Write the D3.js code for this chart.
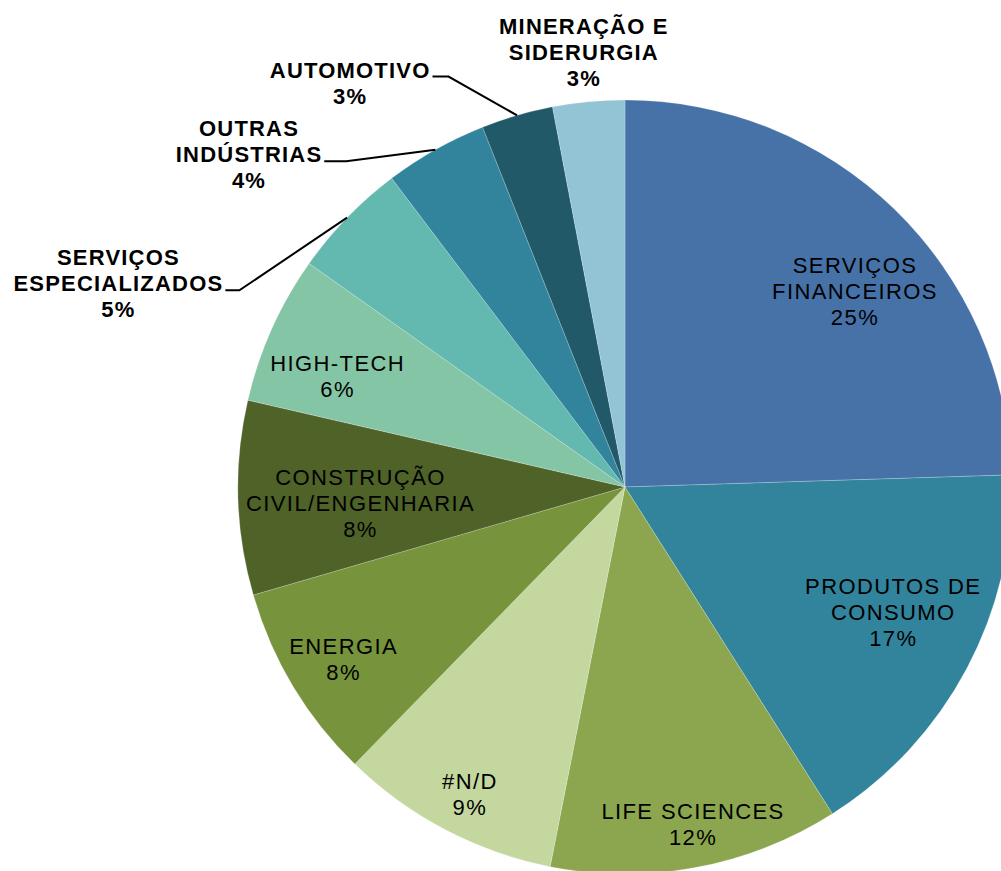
<!DOCTYPE html>
<html>
<head>
<meta charset="utf-8">
<script src="https://cdn.jsdelivr.net/npm/d3@7"></script>
<style>
  body { margin: 0; background: #fff; }
  svg text { font-family: "Liberation Sans", Arial, sans-serif; font-size: 22px; letter-spacing: 1.4px; fill: #000; }
  .outside { font-weight: bold; letter-spacing: 1.2px; }
</style>
</head>
<body>
<div class="container"></div>
<script>
// sectors, clockwise from 12 o'clock
var categories = [
  ["SERVIÇOS", "FINANCEIROS"],
  ["PRODUTOS DE", "CONSUMO"],
  ["LIFE SCIENCES"],
  ["#N/D"],
  ["ENERGIA"],
  ["CONSTRUÇÃO", "CIVIL/ENGENHARIA"],
  ["HIGH-TECH"],
  ["SERVIÇOS", "ESPECIALIZADOS"],
  ["OUTRAS", "INDÚSTRIAS"],
  ["AUTOMOTIVO"],
  ["MINERAÇÃO E", "SIDERURGIA"]
];
var values = [24.5, 16.5, 12.1, 9.2, 8.2, 8.1, 6.2, 4.9, 4.3, 3.0, 3.0];
var colors = ["#4672A8", "#31849B", "#8BA64F", "#C4D79F", "#77933C", "#4F6228",
              "#84C5A5", "#63B9B0", "#31849B", "#215968", "#93C4D6"];

const WIDTH = 1001;
const HEIGHT = 871;
const CX = 625, CY = 487, R = 387;
const LINE_H = 26;

// label placement: [angle deg from top, distance from centre, outside?, leader line index, elbow length]
var labelLayout = [
  [49.6, 302, false],
  [115.0, 296, false],
  [168.6, 344, false],
  [206.8, 344, false],
  [238.5, 330, false],
  [266.5, 265, false],
  [291.1, 308, false],
  [291.9, 546, true, 1, 14],
  [311.5, 502, true, 1, 22],
  [325.8, 489, true, 0, 16],
  [354.6, 437, true, -1, 0]
];

var svg = d3.select('.container').append('svg')
  .attr('width', WIDTH)
  .attr('height', HEIGHT);

var g = svg.append('g').attr('transform', 'translate(' + CX + ',' + CY + ')');

var pie = d3.pie().sort(null).value(function(d){ return d; });
var arcs = pie(values);
var arc = d3.arc().innerRadius(0).outerRadius(R);

g.selectAll('path.slice').data(arcs)
  .enter().append('path')
  .attr('class', 'slice')
  .attr('d', arc)
  .attr('fill', function(d, i){ return colors[i]; })
  .attr('stroke', 'rgba(255,255,255,0.35)')
  .attr('stroke-width', 0.6);

var polar = function(angDeg, r){
  var a = angDeg * Math.PI / 180;
  return [r * Math.sin(a), -r * Math.cos(a)];
};

arcs.forEach(function(d, i){
  var lay = labelLayout[i];
  var p = polar(lay[0], lay[1]);
  var lines = categories[i].concat([Math.round(values[i]) + '%']);
  var n = lines.length;
  var t = g.append('text')
    .attr('text-anchor', 'middle')
    .classed('outside', lay[2]);
  var spans = [];
  lines.forEach(function(s, k){
    var sp = t.append('tspan')
      .attr('x', p[0])
      .attr('y', p[1] + (k - (n - 1) / 2) * LINE_H + 8)
      .text(s);
    spans.push(sp);
  });

  if (lay[2] && lay[3] >= 0) {
    var k = lay[3];
    var w = spans[k].node().getComputedTextLength();
    var y0 = p[1] + (k - (n - 1) / 2) * LINE_H + 7;
    var x0 = p[0] + w / 2 + 2;
    var mid = (d.startAngle + d.endAngle) / 2;
    var tip = [R * Math.sin(mid), -R * Math.cos(mid)];
    g.append('path')
      .attr('d', d3.line()([[x0, y0], [x0 + lay[4], y0], tip]))
      .attr('fill', 'none')
      .attr('stroke', '#000')
      .attr('stroke-width', 2);
  }
});
</script>
</body>
</html>
